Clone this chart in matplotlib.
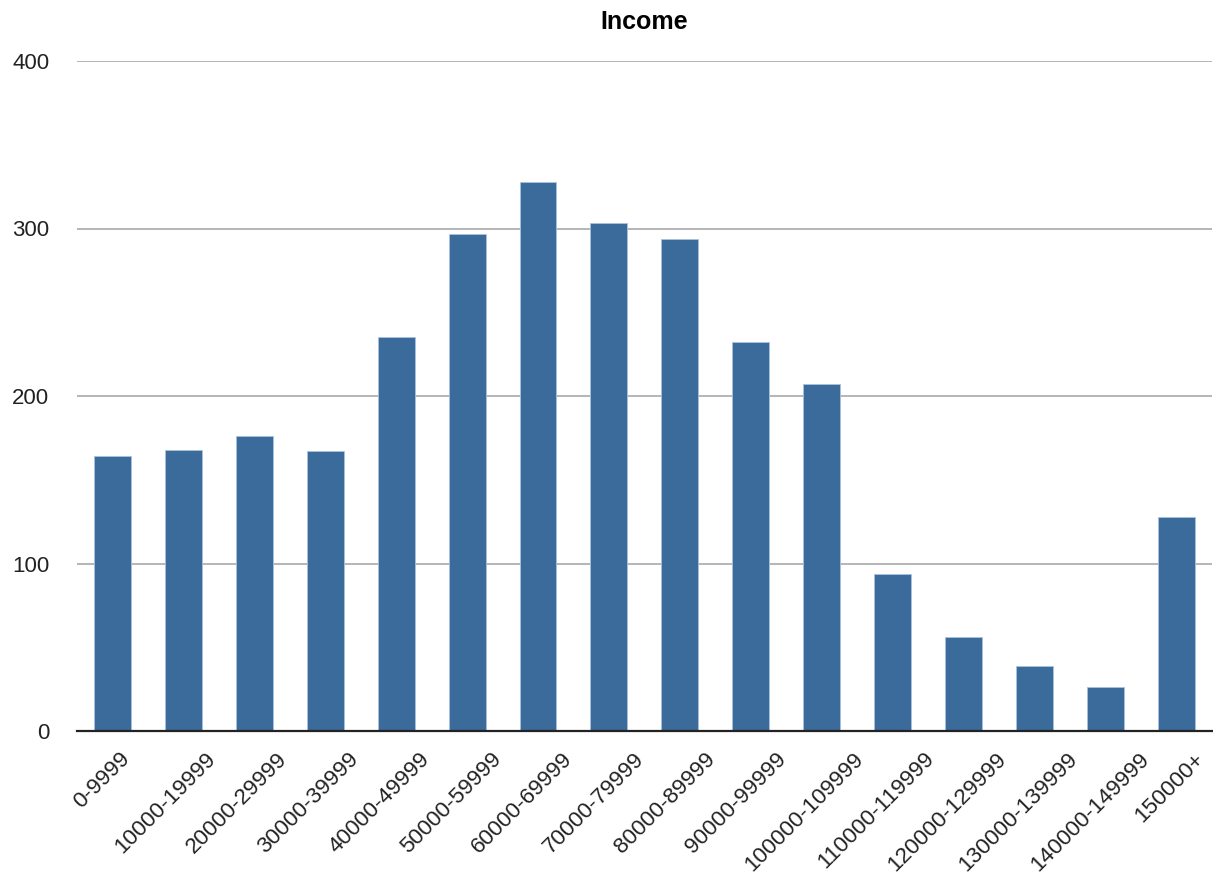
import matplotlib
matplotlib.use("Agg")
import matplotlib.pyplot as plt
from matplotlib.transforms import ScaledTranslation
from matplotlib.font_manager import FontProperties

categories = ["0-9999", "10000-19999", "20000-29999", "30000-39999", "40000-49999",
              "50000-59999", "60000-69999", "70000-79999", "80000-89999", "90000-99999",
              "100000-109999", "110000-119999", "120000-129999", "130000-139999",
              "140000-149999", "150000+"]
values = [164, 168, 176, 167, 235, 297, 328, 303, 294, 232, 207, 94, 56, 39, 26, 128]
yticks = [0, 100, 200, 300, 400]

plt.rcParams['font.family'] = ['Liberation Sans', 'DejaVu Sans']

fig = plt.figure(figsize=(12.13, 8.77), dpi=100)
ax = fig.add_axes([77/1213, 1 - 731/877, 1 - 77/1213 - 0.001, (731 - 61)/877])

x = list(range(len(categories)))
ax.bar(x, values, width=0.52, color="#3b6b9b", edgecolor="#a9c3de", linewidth=0.6, zorder=3)

ax.set_xlim(-0.5, len(categories) - 0.5)
ax.set_ylim(0, 400)
ax.set_yticks(yticks)
ax.set_yticklabels([str(t) for t in yticks], fontsize=16, color="#222222")
ax.yaxis.grid(True, color="#b0b0b0", linewidth=1.3, zorder=0)
ax.set_axisbelow(True)
ax.tick_params(axis='y', length=0, pad=20)
ax.tick_params(axis='x', length=0, pad=12.5)
ax.set_xticks(x)
label_size = 16.2
ax.set_xticklabels(categories, rotation=45, ha='right', va='top', rotation_mode='anchor',
                   fontsize=label_size, color="#222222")

renderer = fig.canvas.get_renderer()
fp = FontProperties(family=['Liberation Sans', 'DejaVu Sans'], size=label_size)
for i, lab in enumerate(ax.get_xticklabels()):
    w, h, d = renderer.get_text_width_height_descent(lab.get_text(), fp, ismath=False)
    dx_px = 0.33 * 0.707 * w + 1 - (10.5 - 0.4 * i)
    lab.set_transform(lab.get_transform() + ScaledTranslation(dx_px / 100, 0, fig.dpi_scale_trans))

for s in ['top', 'right', 'left']:
    ax.spines[s].set_visible(False)
ax.spines['bottom'].set_color("#222222")
ax.spines['bottom'].set_linewidth(1.6)
ax.spines['bottom'].set_zorder(4)

ax.set_title("Income", fontsize=18, fontweight='bold', pad=23)

fig.savefig("out.png", dpi=100)
